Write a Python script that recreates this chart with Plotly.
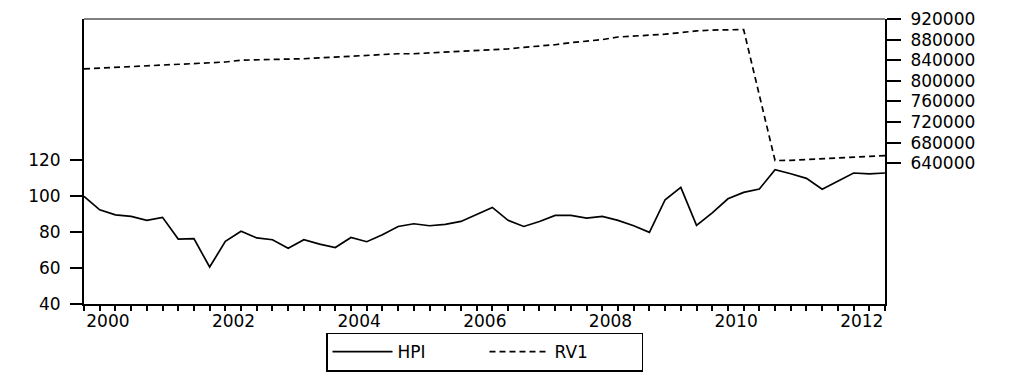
import plotly.graph_objects as go

# ---- data (quarterly, 2000Q1 .. 2012Q4) ----
years = list(range(2000, 2013))
quarters = [f"{y}Q{q}" for y in years for q in (1, 2, 3, 4)]

hpi = [100.0, 92.5, 89.7, 88.8, 86.6, 88.3, 76.2, 76.4, 60.6, 74.9,
       80.5, 76.8, 75.8, 71.0, 75.8, 73.4, 71.5, 77.1, 74.7, 78.6,
       83.2, 84.7, 83.6, 84.4, 86.0, 89.7, 93.8, 86.6, 83.2, 86.0,
       89.4, 89.4, 87.9, 88.8, 86.6, 83.6, 79.9, 98.1, 105.0, 83.8,
       90.8, 98.6, 102.2, 104.1, 114.8, 112.6, 110.0, 103.9, 108.3, 113.0,
       112.5, 113.0]

rv1 = [823000, 824500, 826500, 828000, 829500, 831000, 833000, 834000, 835000, 836500,
       840000, 840500, 841500, 842000, 842800, 844500, 846000, 847500, 849000, 851000,
       852500, 852500, 854000, 855500, 857000, 858500, 860000, 862000, 865000, 867500,
       870000, 874000, 877000, 880000, 885000, 886500, 888000, 890500, 893500, 897000,
       898500, 899000, 899500, 772000, 645000, 645500, 647000, 648500, 650000, 651500,
       653000, 654500]

left_ticks = [40, 60, 80, 100, 120]
right_ticks = [640000, 680000, 720000, 760000, 800000, 840000, 880000, 920000]
label_years = [2000, 2002, 2004, 2006, 2008, 2010, 2012]

# numeric position of each quarter (decimal year)
xpos = [int(s[:4]) + (int(s[5]) - 1) / 4 for s in quarters]

FONT = dict(family="DejaVu Sans", size=17, color="black")

fig = go.Figure()
fig.add_trace(go.Scatter(x=xpos, y=hpi, name="HPI", mode="lines",
                         line=dict(color="black", width=1.7)))
fig.add_trace(go.Scatter(x=xpos, y=rv1, name="RV1", mode="lines", yaxis="y2",
                         line=dict(color="black", width=1.7, dash="6px,4px")))

fig.update_layout(
    width=1024, height=372,
    margin=dict(l=84, r=139, t=19, b=68, autoexpand=False),
    paper_bgcolor="white", plot_bgcolor="white",
    font=FONT,
    showlegend=True,
    legend=dict(orientation="h", x=0.5, xanchor="center", y=-0.1, yanchor="top",
                bordercolor="black", borderwidth=1.5, font=FONT,
                itemwidth=60, entrywidth=82, entrywidthmode="pixels",
                bgcolor="white"),
    xaxis=dict(range=[2000, 2012.75], showgrid=False, zeroline=False,
               showline=True, linecolor="black", linewidth=2,
               tickvals=[y + 0.38 for y in label_years],
               ticktext=[str(y) for y in label_years],
               ticks="", ticklabelstandoff=1,
               minor=dict(ticks="outside", tick0=2000, dtick=0.25, ticklen=5,
                          tickwidth=1.5, tickcolor="black", showgrid=False)),
    yaxis=dict(range=[40, 198.8], showgrid=False, zeroline=False,
               showline=True, linecolor="black", linewidth=2,
               tickvals=left_ticks, ticktext=[str(v) for v in left_ticks],
               ticks="outside", ticklen=12, tickwidth=1.5, tickcolor="black",
               ticklabelstandoff=6),
    yaxis2=dict(range=[366400, 920000], overlaying="y", side="right",
                showgrid=False, zeroline=False,
                showline=True, linecolor="black", linewidth=2,
                tickvals=right_ticks, ticktext=[str(v) for v in right_ticks],
                ticks="outside", ticklen=14, tickwidth=1.5, tickcolor="black",
                ticklabelstandoff=6),
    shapes=[dict(type="line", xref="paper", yref="paper", x0=0, x1=1, y0=1, y1=1,
                 line=dict(color="black", width=1.2))],
)

fig.write_html("out.html")
